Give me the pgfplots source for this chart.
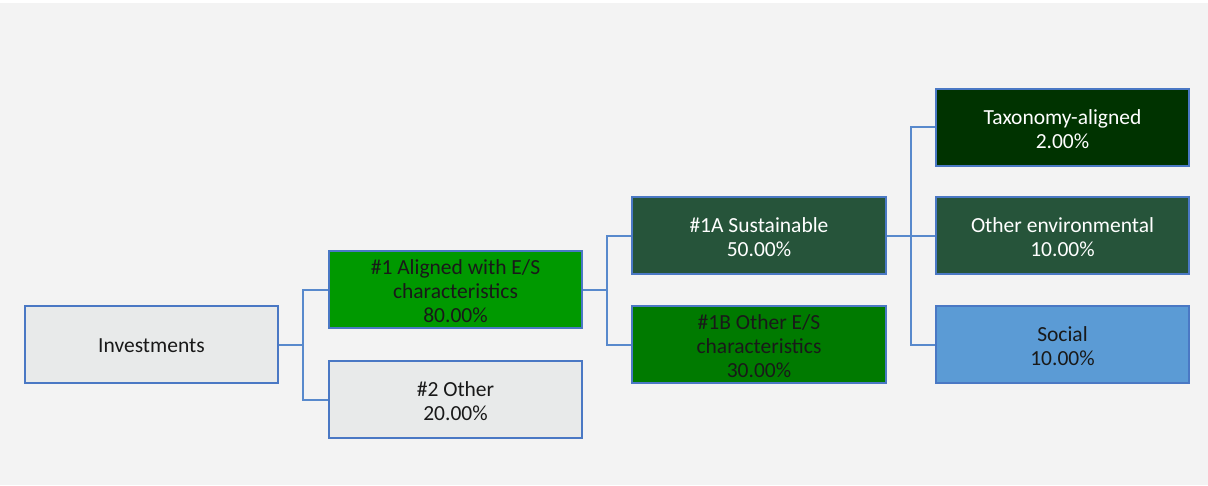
\documentclass[border=0pt]{standalone}
\usepackage{pgfplots}
\pgfplotsset{compat=1.18}
\usepackage{fontspec}
\setmainfont{Carlito}

\definecolor{bg}{HTML}{F3F3F3}
\definecolor{edge}{HTML}{4A78C4}
\definecolor{wire}{HTML}{5889CC}
\definecolor{lightbox}{HTML}{E8EAEA}
\definecolor{green1}{HTML}{009900}
\definecolor{green1a}{HTML}{26543A}
\definecolor{green1b}{HTML}{007A00}
\definecolor{taxo}{HTML}{003300}
\definecolor{social}{HTML}{5B9BD5}

\begin{document}
\begin{tikzpicture}
\begin{axis}[
    width=1208pt, height=485pt, scale only axis,
    xmin=0, xmax=1208, ymin=0, ymax=485,
    y dir=reverse,
    hide axis, clip=false,
    box/.style={draw=edge, line width=2pt, mark=none},
    wires/.style={draw=wire, line width=2pt, mark=none},
    boxtext/.style={draw=none, mark=none,
        point meta=explicit symbolic,
        nodes near coords, nodes near coords align=center,
        every node near coord/.append style={anchor=center, align=center,
            font=\fontsize{21.5}{24}\selectfont, text=#1}},
]
% page background
\addplot[fill=white, draw=none, mark=none] coordinates {(0,0) (1208,0) (1208,485) (0,485)} -- cycle;
\addplot[fill=bg, draw=none, mark=none] coordinates {(0,3) (1208,3) (1208,485) (0,485)} -- cycle;

% connectors
\addplot[wires] coordinates {(278,345) (303,345)};
\addplot[wires] coordinates {(329,290) (303,290) (303,400) (329,400)};
\addplot[wires] coordinates {(582,290) (607,290)};
\addplot[wires] coordinates {(632,236) (607,236) (607,345) (632,345)};
\addplot[wires] coordinates {(886,236) (936,236)};
\addplot[wires] coordinates {(936,127) (911,127) (911,345) (936,345)};

% boxes
\addplot[box, fill=lightbox] coordinates {(25,306) (278,306) (278,383) (25,383)} -- cycle;
\addplot[box, fill=green1]   coordinates {(329,251) (582,251) (582,328) (329,328)} -- cycle;
\addplot[box, fill=lightbox] coordinates {(329,361) (582,361) (582,438) (329,438)} -- cycle;
\addplot[box, fill=green1a]  coordinates {(632,197) (886,197) (886,274) (632,274)} -- cycle;
\addplot[box, fill=green1b]  coordinates {(632,306) (886,306) (886,383) (632,383)} -- cycle;
\addplot[box, fill=taxo]     coordinates {(936,89) (1189,89) (1189,166) (936,166)} -- cycle;
\addplot[box, fill=green1a]  coordinates {(936,197) (1189,197) (1189,274) (936,274)} -- cycle;
\addplot[box, fill=social]   coordinates {(936,306) (1189,306) (1189,383) (936,383)} -- cycle;

% labels
\addplot[boxtext=black!90] coordinates {
    (151.5,345.5) [Investments]
    (455.5,291.5) [{\#1 Aligned with E/S\\characteristics\\80.00\%}]
    (455.5,401.5) [{\#2 Other\\20.00\%}]
    (759,346.5)   [{\#1B Other E/S\\characteristics\\30.00\%}]
    (1062.5,346.5) [{Social\\10.00\%}]
};
\addplot[boxtext=white] coordinates {
    (759,237.5)   [{\#1A Sustainable\\50.00\%}]
    (1062.5,129.5) [{Taxonomy-aligned\\2.00\%}]
    (1062.5,237.5) [{Other environmental\\10.00\%}]
};
\end{axis}
\end{tikzpicture}
\end{document}
